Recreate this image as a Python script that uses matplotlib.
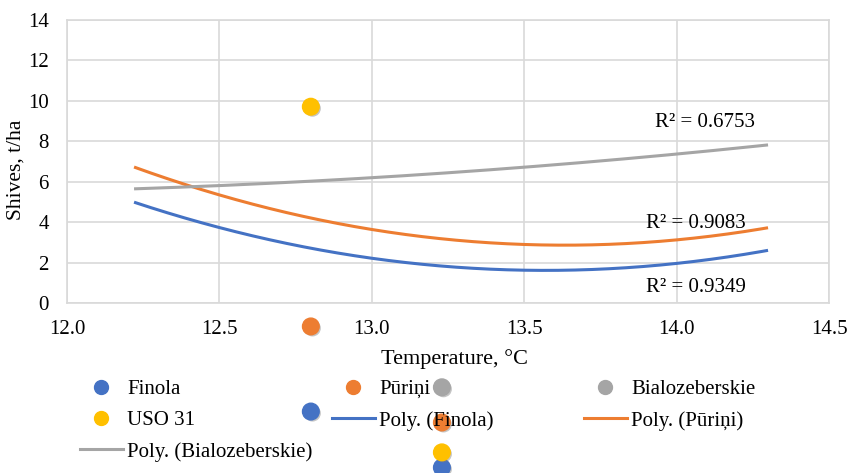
import numpy as np
import matplotlib
matplotlib.use("Agg")
import matplotlib.pyplot as plt
import matplotlib.patheffects as pe
from matplotlib.lines import Line2D

plt.rcParams["font.family"] = ["Liberation Serif", "DejaVu Serif"]

# Observed points (temperature, shives)
finola_x = [12.8, 13.23]
finola_y = [-5.37, -8.14]
puri_x = [12.8, 13.23]
puri_y = [-1.16, -5.91]
bialo_x = [13.23]
bialo_y = [-4.17]
uso_x = [12.8, 13.23]
uso_y = [9.71, -7.39]

# Polynomial trend lines sampled along the temperature range
trend_x = [12.22, 12.5, 13.0, 13.5, 14.0, 14.3]
trend_finola = [4.95, 3.81, 2.17, 1.59, 2.03, 2.57]
trend_puri = [6.70, 5.40, 3.61, 2.86, 3.19, 3.69]
trend_bialo = [5.63, 5.84, 6.17, 6.75, 7.33, 7.84]

r2_labels = ["R² = 0.9349", "R² = 0.9083", "R² = 0.6753"]
r2_pos = [(13.90, 0.79), (13.90, 3.91), (13.93, 8.92)]

x_ticks = [12.0, 12.5, 13.0, 13.5, 14.0, 14.5]
y_ticks = [0, 2, 4, 6, 8, 10, 12, 14]

BLUE = "#4472C4"
ORANGE = "#ED7D31"
GRAY = "#A5A5A5"
YELLOW = "#FFC000"
GRID = "#D9D9D9"
FS = 15

fig = plt.figure(figsize=(8.5, 4.73), dpi=100)
ax = fig.add_axes([67 / 850, 1 - 303 / 473, 762 / 850, 283 / 473])

shadow = [pe.SimplePatchShadow(offset=(1.2, -1.2), shadow_rgbFace="#7f7f7f", alpha=0.45), pe.Normal()]

# trend curves
xx = np.linspace(min(trend_x), max(trend_x), 300)
for ys, col in [(trend_finola, BLUE), (trend_puri, ORANGE), (trend_bialo, GRAY)]:
    coef = np.polyfit(trend_x, ys, 2)
    ax.plot(xx, np.polyval(coef, xx), color=col, lw=2.2, solid_capstyle="butt", zorder=3)

# scatter markers
for xs, ys, col in [(finola_x, finola_y, BLUE), (puri_x, puri_y, ORANGE),
                    (bialo_x, bialo_y, GRAY), (uso_x, uso_y, YELLOW)]:
    ax.plot(xs, ys, "o", color=col, ms=12, mec=col, clip_on=False, zorder=5,
            path_effects=shadow)

for txt, (tx, ty) in zip(r2_labels, r2_pos):
    ax.text(tx, ty, txt, fontsize=FS, ha="left", va="center", color="#000000", zorder=4)

ax.set_xlim(12.0, 14.5)
ax.set_ylim(0, 14)
ax.set_xticks(x_ticks)
ax.set_xticklabels([f"{v:.1f}" for v in x_ticks], fontfamily="Liberation Serif")
ax.set_yticks(y_ticks)
ax.set_yticklabels([str(v) for v in y_ticks], fontfamily="Liberation Serif")
ax.tick_params(axis="both", length=0, labelsize=FS)
ax.tick_params(axis="y", pad=13)
ax.tick_params(axis="x", pad=12)
ax.grid(True, color=GRID, lw=1.2)
ax.set_axisbelow(True)
for s in ax.spines.values():
    s.set_color(GRID)
    s.set_linewidth(1.2)

ax.set_xlabel("Temperature, °C", fontsize=16)
ax.xaxis.set_label_coords(0.508, -0.163)
ax.set_ylabel("Shives, t/ha", fontsize=15.5)
ax.yaxis.set_label_coords(-0.054, 0.47)

# legend laid out in three equal-width columns, row by row
entries = [
    ("marker", BLUE, "Finola"), ("marker", ORANGE, "Pūriņi"), ("marker", GRAY, "Bialozeberskie"),
    ("marker", YELLOW, "USO 31"), ("line", BLUE, "Poly. (Finola)"), ("line", ORANGE, "Poly. (Pūriņi)"),
    ("line", GRAY, "Poly. (Bialozeberskie)"),
]
W, H = 850.0, 473.0
col_x0 = [80, 332, 584]
row_y = [386.7, 418.3, 449.3]
for i, (kind, col, label) in enumerate(entries):
    r, c = divmod(i, 3)
    x0 = col_x0[c]
    yc = 1 - row_y[r] / H
    if kind == "marker":
        fig.add_artist(Line2D([(x0 + 21) / W], [yc], marker="o", ms=10, color=col, mec=col,
                              ls="none", transform=fig.transFigure))
    else:
        fig.add_artist(Line2D([x0 / W, (x0 + 43) / W], [yc, yc], color=col, lw=2.2,
                              transform=fig.transFigure))
    fig.text((x0 + 47) / W, yc, label, fontsize=FS, ha="left", va="center_baseline")

fig.savefig("out.png", dpi=100)
